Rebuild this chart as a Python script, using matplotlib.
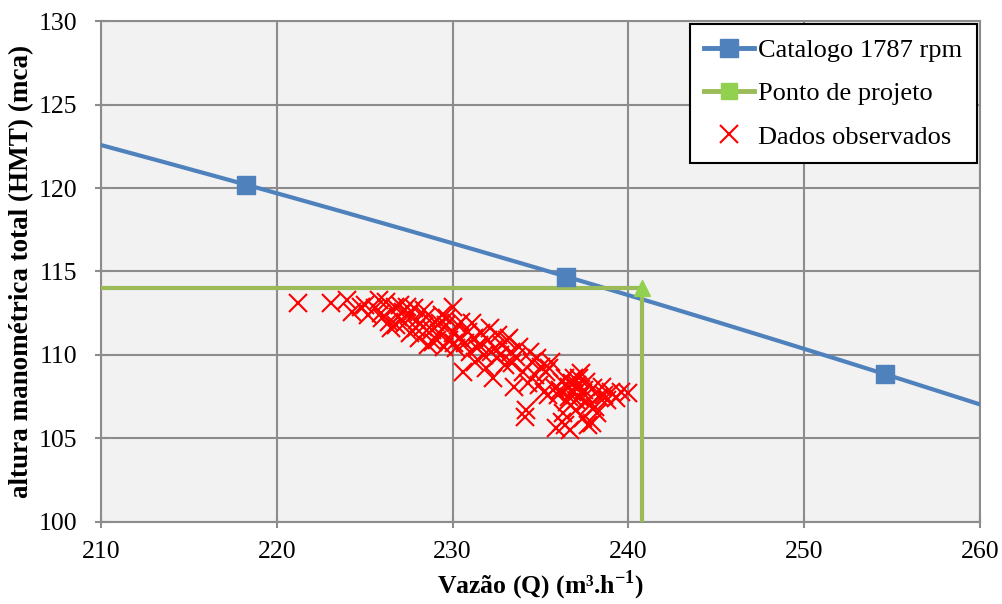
import matplotlib
matplotlib.use("Agg")
import matplotlib.pyplot as plt
import numpy as np

# catalogue curve (pump 1787 rpm)
cat_q = [218.25, 236.45, 254.6]
cat_h = [120.2, 114.7, 108.85]
trend_range = [210, 260]

# design point
proj_q = [210, 240.75, 240.75]
proj_h = [114.0, 114.0, 100.0]

# observed data
obs_q = [221.2, 223.1, 224.0, 224.3, 224.8, 225.2, 225.6, 225.9, 226.2, 226.4,
         226.5, 226.7, 226.9, 227.0, 227.2,
         227.3, 227.5, 227.6, 227.8, 228.0, 228.1, 228.3, 228.5, 228.6, 228.8,
         229.0, 229.1, 229.2, 229.4, 229.5, 229.6, 229.8, 230.0, 230.0, 230.2,
         230.3, 230.4,
         230.6, 230.7, 230.9, 231.0, 231.2, 231.3, 231.5, 231.6, 231.8, 231.9,
         232.0, 232.1, 232.3, 232.4, 232.5, 232.6, 232.8, 233.0, 233.1, 233.3,
         233.5, 233.6, 233.8, 234.0, 234.1, 234.2, 234.3, 234.5, 234.7, 235.0,
         235.2,
         235.3, 235.6, 235.8, 235.9, 236.0, 236.2, 236.3, 236.4, 236.5, 236.6,
         236.7, 236.8, 236.9, 237.0, 237.1, 237.2, 237.3, 237.4, 237.5, 237.6,
         237.8, 237.9, 238.0, 238.2, 238.3, 238.5, 238.8, 239.0, 239.3, 239.6,
         240.0,
         225.0, 225.8, 226.0, 226.8, 227.4, 227.9, 228.4, 228.9, 229.3, 229.7,
         230.1, 230.5, 231.1, 231.4, 232.2, 232.7, 233.2, 233.4, 234.4, 234.9,
         235.4, 236.1, 236.6, 236.8, 237.0, 237.2, 237.4, 237.6, 237.0, 236.4,
         238.1, 238.6, 236.2, 237.7, 235.5, 234.8]
obs_h = [113.1, 113.1, 113.3, 112.6, 112.9, 112.4, 112.8, 112.5, 113.2, 112.0,
         111.6, 112.9, 112.3, 113.0, 112.6,
         111.9, 112.4, 111.3, 112.8, 112.1, 111.0, 111.7, 112.3, 110.6, 111.5,
         112.0, 110.9, 111.3, 112.4, 110.5, 111.8, 110.9, 112.9, 111.3, 110.4,
         111.8, 111.0,
         109.0, 110.7, 111.4, 110.2, 111.0, 109.6, 110.6, 111.3, 110.0, 109.2,
         110.9, 111.6, 108.6, 110.4, 109.8, 111.2, 110.6, 109.4, 110.9, 110.2,
         108.1, 109.9, 110.5, 109.0, 106.3, 106.7, 108.3, 109.6, 108.8, 109.3,
         107.8,
         109.0, 109.6, 108.0, 105.6, 107.6, 108.4, 106.5, 105.8, 107.2, 108.1,
         105.5, 107.8, 108.6, 106.7, 108.2, 107.5, 108.9, 106.2, 107.9, 108.4,
         107.0, 105.9, 108.0, 106.5, 107.5, 108.1, 107.3, 107.8, 107.4, 107.8,
         107.7,
         113.0, 113.3, 112.2, 111.8, 112.9, 111.6, 112.7, 110.8, 111.9, 112.2,
         110.7, 112.0, 111.9, 110.4, 110.2, 110.0, 111.0, 109.5, 110.2, 108.2,
         107.6, 107.9, 107.5, 108.3, 108.0, 108.6, 107.7, 107.2, 107.3, 108.6,
         106.9, 107.6, 106.0, 105.8, 109.2, 109.8]

plt.rcParams['font.family'] = ['Liberation Serif', 'DejaVu Serif']
plt.rcParams['mathtext.fontset'] = 'custom'
plt.rcParams['mathtext.rm'] = 'Liberation Serif'
plt.rcParams['mathtext.bf'] = 'Liberation Serif:bold'

blue = '#4F81BD'
green = '#9BBB59'

fig = plt.figure(figsize=(10.03, 6.04), dpi=100)
ax = fig.add_axes([0.1007, 0.1358, 0.8764, 0.8294])
ax.set_facecolor('#F2F2F2')

# 2nd order trend line through the catalogue points
coef = np.polyfit(cat_q, cat_h, 2)
tq = np.linspace(trend_range[0], trend_range[1], 200)
ax.plot(tq, np.polyval(coef, tq), color=blue, lw=3, zorder=3)
ax.plot(cat_q, cat_h, ls='none', marker='s', ms=13, color=blue, zorder=4)
ax.plot(proj_q, proj_h, color=green, lw=3, zorder=3)
ax.plot(proj_q[1], proj_h[1], marker='^', ms=11, color='#92D050', zorder=4)
ax.plot(obs_q, obs_h, ls='none', marker='x', ms=13, mew=1.5, color='#FF0000', zorder=5)

# legend handles
h1, = ax.plot([], [], color=blue, lw=3.5, marker='s', ms=13)
h2, = ax.plot([], [], color=green, lw=3.5, marker='s', ms=11, mfc='#92D050', mec='#92D050')
h3, = ax.plot([], [], ls='none', marker='x', ms=13, mew=1.5, color='#FF0000')
leg = ax.legend([h1, h2, h3], ['Catalogo 1787 rpm', 'Ponto de projeto', 'Dados observados'],
                loc='upper right', bbox_to_anchor=(0.9965, 0.994), fancybox=False,
                edgecolor='black', framealpha=1, fontsize=19, handlelength=1.9,
                handletextpad=0.15, borderpad=0.55, labelspacing=0.75, borderaxespad=0)
leg.get_frame().set_linewidth(1.5)

ax.set_xlim(210, 260)
ax.set_ylim(100, 130)
ax.set_xticks(range(210, 261, 10))
ax.set_yticks(range(100, 131, 5))
ax.grid(True, color='#8C8C8C', lw=1.5)
ax.set_axisbelow(True)
for s in ax.spines.values():
    s.set_color('#8C8C8C')
    s.set_linewidth(1.5)
ax.tick_params(direction='inout', length=8, color='#8C8C8C', width=1.5,
               labelsize=18.5, pad=10)
ax.tick_params(axis='y', pad=13)

ax.set_xlabel(r'Vazão (Q) (m³.h$^{\mathbf{-1}}$)', fontsize=18.5, fontweight='bold',
              labelpad=4)
ax.set_ylabel('altura manométrica total (HMT) (mca)', fontsize=19.5, fontweight='bold',
              labelpad=3)

fig.savefig('out.png', dpi=100)
